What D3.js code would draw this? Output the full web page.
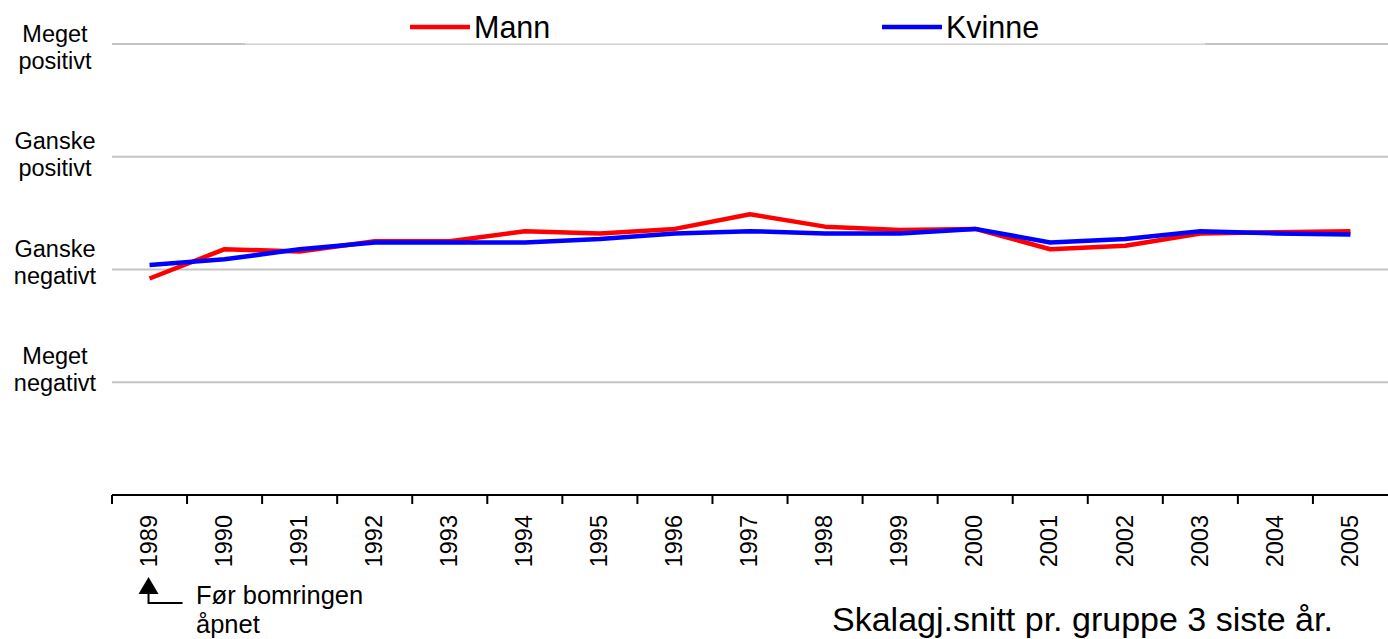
<!DOCTYPE html>
<html>
<head>
<meta charset="utf-8">
<script src="https://cdn.jsdelivr.net/npm/d3@7"></script>
<style>
  body { margin: 0; background: #fff; }
  text { font-family: "Liberation Sans", Arial, sans-serif; fill: #000; }
</style>
</head>
<body>
<script>
// holdning til bomringen, skalagjennomsnitt per år
const width = 1388, height = 639

const years = ["1989","1990","1991","1992","1993","1994","1995","1996","1997",
               "1998","1999","2000","2001","2002","2003","2004","2005"]

const mann   = [1.92, 2.18, 2.16, 2.25, 2.25, 2.34, 2.32, 2.36, 2.49,
                2.38, 2.35, 2.36, 2.18, 2.21, 2.32, 2.33, 2.34]
const kvinne = [2.04, 2.09, 2.18, 2.24, 2.24, 2.24, 2.27, 2.32, 2.34,
                2.32, 2.32, 2.36, 2.24, 2.27, 2.34, 2.32, 2.31]

const seriesNames = ["Mann", "Kvinne"]
const seriesColors = ["#ff0000", "#0000ff"]

// scale levels 1..4
const levelValues = [4, 3, 2, 1]
const levelLabels = [["Meget", "positivt"], ["Ganske", "positivt"],
                     ["Ganske", "negativt"], ["Meget", "negativt"]]

const x = d3.scaleBand()
    .domain(years)
    .range([112, 1388])
    .padding(0)

const y = d3.scaleLinear()
    .domain([0, 4])
    .range([495, 44])

// labels sit a little apart from the gridlines in the original
const labelY = d3.scaleLinear()
    .domain([4, 1])
    .range([42, 364])

const svg = d3.select("body")
    .append("svg")
      .attr("width", width)
      .attr("height", height)

// gridlines
svg.selectAll(".grid")
    .data(levelValues)
    .enter()
    .append("line")
      .attr("class", "grid")
      .attr("x1", 112)
      .attr("x2", width)
      .attr("y1", d => y(d))
      .attr("y2", d => y(d))
      .style("stroke", "#c4c4c4")
      .style("stroke-width", 2)

// legend box partly hides the top gridline
svg.append("rect")
    .attr("x", 245)
    .attr("y", 4)
    .attr("width", 960)
    .attr("height", y(4) - 4 + 0.5)
    .style("fill", "#fff")
    .style("fill-opacity", 0.55)

// y labels
const ylab = svg.selectAll(".ylab")
    .data(levelValues)
    .enter()
    .append("text")
      .attr("class", "ylab")
      .attr("text-anchor", "middle")
      .style("font-size", "23.5px")

ylab.append("tspan")
    .attr("x", 55)
    .attr("y", d => labelY(d))
    .text((d, i) => levelLabels[i][0])

ylab.append("tspan")
    .attr("x", 55)
    .attr("dy", 27)
    .text((d, i) => levelLabels[i][1])

// x axis: line, ticks at year boundaries, rotated labels
svg.append("line")
    .attr("x1", 112)
    .attr("x2", width)
    .attr("y1", y(0))
    .attr("y2", y(0))
    .style("stroke", "#000")
    .style("stroke-width", 2)

svg.selectAll(".tick")
    .data(years)
    .enter()
    .append("line")
      .attr("class", "tick")
      .attr("x1", d => x(d))
      .attr("x2", d => x(d))
      .attr("y1", y(0))
      .attr("y2", y(0) + 9)
      .style("stroke", "#000")
      .style("stroke-width", 2)

svg.selectAll(".year")
    .data(years)
    .enter()
    .append("text")
      .attr("class", "year")
      .attr("text-anchor", "end")
      .attr("dy", "0.35em")
      .attr("transform", d => "translate(" + (x(d) + x.bandwidth() / 2 - 1) + "," + 515 + ") rotate(-90)")
      .style("font-size", "23.5px")
      .text(d => d)

// lines
const line = d3.line()
    .x((d, i) => x(years[i]) + x.bandwidth() / 2)
    .y(d => y(d))

svg.selectAll(".series")
    .data([mann, kvinne])
    .enter()
    .append("path")
      .attr("class", "series")
      .attr("d", d => line(d))
      .style("fill", "none")
      .style("stroke", (d, i) => seriesColors[i])
      .style("stroke-width", 4.5)
      .style("stroke-linejoin", "round")

// legend
const legendX = [410, 882]
const legend = svg.selectAll(".legend")
    .data(seriesNames)
    .enter()
    .append("g")
      .attr("class", "legend")
      .attr("transform", (d, i) => "translate(" + legendX[i] + ",27)")

legend.append("line")
    .attr("x1", 0)
    .attr("x2", 60)
    .style("stroke", (d, i) => seriesColors[i])
    .style("stroke-width", 4.5)

legend.append("text")
    .attr("x", 64)
    .attr("y", 11)
    .style("font-size", "30.5px")
    .text(d => d)

// annotation under 1989
const ax = x(years[0]) + x.bandwidth() / 2 - 1
svg.append("path")
    .attr("d", "M" + ax + ",577 L" + (ax + 10) + ",594 L" + (ax - 10) + ",594 Z")
    .style("fill", "#000")

svg.append("path")
    .attr("d", "M" + ax + ",594 L" + ax + ",603 L" + (ax + 34) + ",603")
    .style("fill", "none")
    .style("stroke", "#000")
    .style("stroke-width", 2)

const note = svg.append("text")
    .style("font-size", "25.5px")
note.append("tspan")
    .attr("x", 196)
    .attr("y", 604)
    .text("Før bomringen")
note.append("tspan")
    .attr("x", 196)
    .attr("dy", 29)
    .text("åpnet")

svg.append("text")
    .attr("x", 832)
    .attr("y", 631)
    .style("font-size", "34px")
    .text("Skalagj.snitt pr. gruppe 3 siste år.")
</script>
</body>
</html>
